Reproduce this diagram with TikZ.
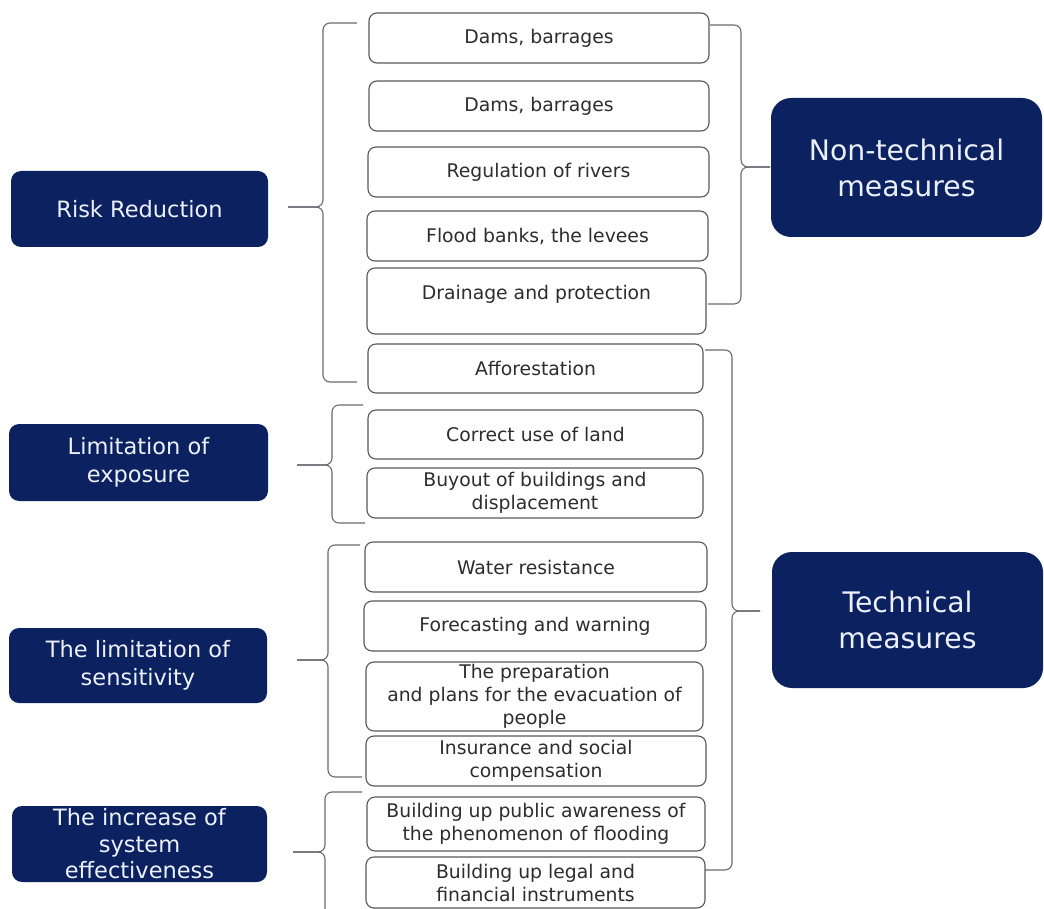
\documentclass[tikz,border=0pt]{standalone}
\usepackage{fontspec}
\setmainfont{DejaVu Sans}
\definecolor{navy}{RGB}{12,34,96}
\definecolor{boxgray}{RGB}{88,88,92}
\definecolor{bracegray}{RGB}{105,105,115}
\definecolor{txtgray}{RGB}{45,45,45}
\definecolor{lighttxt}{RGB}{236,240,250}
\tikzset{
  item/.style={draw=boxgray, line width=1.1pt, rounded corners=8pt, fill=white,
    text=txtgray, font=\fontsize{18.8}{23}\selectfont, align=center, inner sep=0pt},
  itemlabel/.style={text=txtgray, font=\fontsize{18.8}{23}\selectfont, align=center, inner sep=0pt},
  group/.style={fill=navy, rounded corners=10pt, text=lighttxt,
    font=\fontsize{22.5}{27.5}\selectfont, align=center, inner sep=0pt},
  kind/.style={group, rounded corners=20pt, font=\fontsize{28.3}{36}\selectfont},
  brace/.style={draw=bracegray, line width=1.1pt, rounded corners=7pt}
}
\begin{document}
\begin{tikzpicture}[x=1pt, y=-1pt]
\useasboundingbox (0,0) rectangle (1044,909);

% measures column
\node[item, minimum width=340pt, minimum height=50pt] (b1) at (539,38) {Dams, barrages};
\node[item, minimum width=340pt, minimum height=50pt] (b2) at (539,106) {Dams, barrages};
\node[item, minimum width=341pt, minimum height=50pt] (b3) at (538.5,172) {Regulation of rivers};
\node[item, minimum width=341pt, minimum height=50pt] (b4) at (537.5,236) {Flood banks, the levees};
\node[item, minimum width=339pt, minimum height=66pt] (b5) at (536.5,301) {};
\node[itemlabel] (b5t) at (536.5,294) {Drainage and protection};
\node[item, minimum width=335pt, minimum height=49pt] (b6) at (535.5,368.5) {Afforestation};
\node[item, minimum width=335pt, minimum height=49pt] (b7) at (535.5,434.5) {Correct use of land};
\node[item, minimum width=336pt, minimum height=50pt] (b8) at (535,493) {Buyout of buildings and\\displacement};
\node[item, minimum width=342pt, minimum height=50pt] (b9) at (536,567) {Water resistance};
\node[item, minimum width=342pt, minimum height=50pt] (b10) at (535,626) {Forecasting and warning};
\node[item, minimum width=337pt, minimum height=69pt] (b11) at (534.5,696.5) {The preparation\\and plans for the evacuation of\\people};
\node[item, minimum width=340pt, minimum height=50pt] (b12) at (536,761) {Insurance and social\\compensation};
\node[item, minimum width=338pt, minimum height=54pt] (b13) at (536,824) {Building up public awareness of\\the phenomenon of flooding};
\node[item, minimum width=339pt, minimum height=51pt] (b14) at (535.5,882.5) {Building up legal and\\financial instruments};

% groups on the left
\node[group, minimum width=257pt, minimum height=76pt] (rr) at (139.5,209) {Risk Reduction};
\node[group, minimum width=259pt, minimum height=77pt] (le) at (138.5,462.5) {Limitation of\\exposure};
\node[group, minimum width=258pt, minimum height=75pt] (ls) at (138,665.5) {The limitation of\\sensitivity};
\node[group, minimum width=255pt, minimum height=76pt, font=\fontsize{22.5}{26.5}\selectfont] (ie) at (139.5,844) {The increase of\\system\\effectiveness};

% kinds on the right
\node[kind, minimum width=271pt, minimum height=139pt] (nt) at (906.5,167.5) {Non-technical\\measures};
\node[kind, minimum width=271pt, minimum height=136pt] (tm) at (907.5,620) {Technical\\measures};

% brace tips
\coordinate (rrtip) at (288,207);
\coordinate (letip) at (297,465);
\coordinate (lstip) at (297,660);
\coordinate (ietip) at (293,852);
\coordinate (nttip) at (770,167);
\coordinate (tmtip) at (760,611);

% left braces
\draw[brace] (357,23) -- (323,23) -- (323,207) -- (rrtip);
\draw[brace] (rrtip) -- (323,207) -- (323,382) -- (357,382);
\draw[brace] (363,405) -- (332,405) -- (332,465) -- (letip);
\draw[brace] (letip) -- (332,465) -- (332,523) -- (365,523);
\draw[brace] (360,545) -- (328,545) -- (328,660) -- (lstip);
\draw[brace] (lstip) -- (328,660) -- (328,777) -- (362,777);
\draw[brace] (362,792) -- (325,792) -- (325,852) -- (ietip);
\draw[brace] (ietip) -- (325,852) -- (325,912);

% right braces
\draw[brace] (710,25) -- (741,25) -- (741,167) -- (nttip);
\draw[brace] (nttip) -- (741,167) -- (741,304) -- (708,304);
\draw[brace] (705,350) -- (732,350) -- (732,611) -- (tmtip);
\draw[brace] (tmtip) -- (732,611) -- (732,870) -- (705,870);
\end{tikzpicture}
\end{document}
